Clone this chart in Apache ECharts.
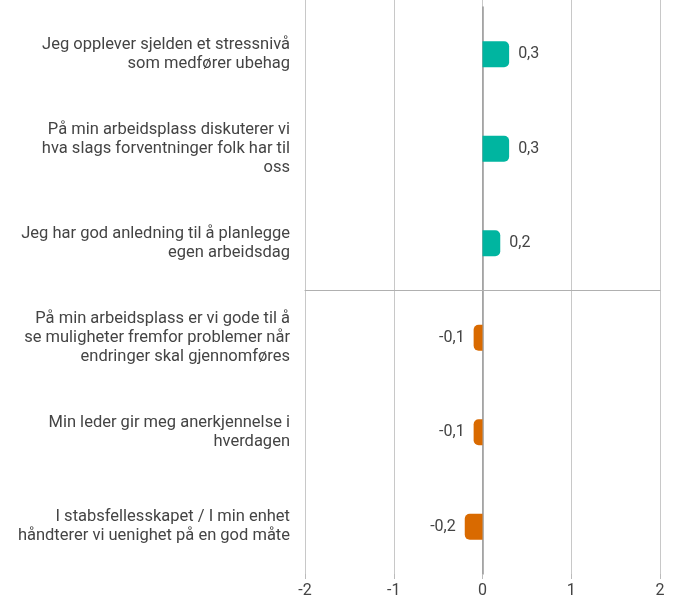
<!DOCTYPE html>
<html>
<head>
<meta charset="utf-8">
<script src="https://cdn.jsdelivr.net/npm/echarts@6/dist/echarts.min.js"></script>
<style>
  html, body { margin: 0; padding: 0; background: #fff; }
  #chart { width: 675px; height: 604px; }
</style>
</head>
<body>
<div id="chart"></div>
<script>
// påstander (kategorier), linjeskift som i originalen
var categories = [
	'Jeg opplever sjelden et stressnivå\nsom medfører ubehag',
	'På min arbeidsplass diskuterer vi\nhva slags forventninger folk har til\noss',
	'Jeg har god anledning til å planlegge\negen arbeidsdag',
	'På min arbeidsplass er vi gode til å\nse muligheter fremfor problemer når\nendringer skal gjennomføres',
	'Min leder gir meg anerkjennelse i\nhverdagen',
	'I stabsfellesskapet / I min enhet\nhåndterer vi uenighet på en god måte'
];
var values = [0.3, 0.3, 0.2, -0.1, -0.1, -0.2];
var xTicks = [-2, -1, 0, 1, 2];

var posColor = '#00b5a0';
var negColor = '#d96a00';

var chart = echarts.init(document.getElementById('chart'));

var fmt = function(v) { return String(v).replace('.', ','); };

var option = {
	animation : false,
	textStyle : { fontFamily : 'Roboto' },
	grid : [
		{ left : 305, right : 15, top : 7, bottom : 30 },
		// bare for rutenettlinjene helt opp til toppen
		{ left : 305, right : 15, top : 0, bottom : 30 },
		// øvre halvdel, bunnlinjen blir skillelinjen mellom positive og negative
		{ left : 305, right : 15, top : 7, bottom : 313.5 }
	],
	xAxis : [ {
		type : 'value',
		gridIndex : 0,
		min : xTicks[0],
		max : xTicks[xTicks.length - 1],
		interval : 1,
		axisLine : { show : false },
		axisTick : { show : true, length : 5, lineStyle : { color : '#bbb' } },
		splitLine : { show : false },
		axisLabel : {
			color : '#444',
			fontSize : 16,
			margin : 9,
			formatter : function(v) { return fmt(v); }
		}
	}, {
		type : 'value',
		gridIndex : 1,
		min : xTicks[0],
		max : xTicks[xTicks.length - 1],
		interval : 1,
		axisLine : { show : false },
		axisTick : { show : false },
		axisLabel : { show : false },
		splitLine : { show : true, lineStyle : { color : '#c8c8c8' } }
	}, {
		type : 'value',
		gridIndex : 2,
		min : xTicks[0],
		max : xTicks[xTicks.length - 1],
		axisLine : { show : true, onZero : false, lineStyle : { color : '#b0b0b0', width : 1 } },
		axisTick : { show : false },
		axisLabel : { show : false },
		splitLine : { show : false }
	} ],
	yAxis : [ {
		type : 'category',
		gridIndex : 0,
		inverse : true,
		data : categories,
		axisLine : { show : true, onZero : true, lineStyle : { color : '#999', width : 1.5 } },
		axisTick : { show : false },
		splitLine : { show : false },
		axisLabel : {
			color : '#444',
			fontSize : 16.5,
			lineHeight : 19,
			align : 'right',
			margin : 15
		}
	}, {
		type : 'category',
		gridIndex : 1,
		show : false,
		data : categories
	}, {
		type : 'value',
		gridIndex : 2,
		show : false
	} ],
	series : [ {
		type : 'bar',
		xAxisIndex : 0,
		yAxisIndex : 0,
		barWidth : 26,
		z : 3,
		data : values.map(function(v) {
			return {
				value : v,
				itemStyle : {
					color : v >= 0 ? posColor : negColor,
					borderRadius : v >= 0 ? [0, 5, 5, 0] : [5, 0, 0, 5]
				},
				label : { position : v >= 0 ? 'right' : 'left' }
			};
		}),
		label : {
			show : true,
			distance : 9,
			color : '#444',
			fontSize : 16,
			formatter : function(p) { return fmt(p.value); }
		}
	} ]
};

chart.setOption(option);
</script>
</body>
</html>
